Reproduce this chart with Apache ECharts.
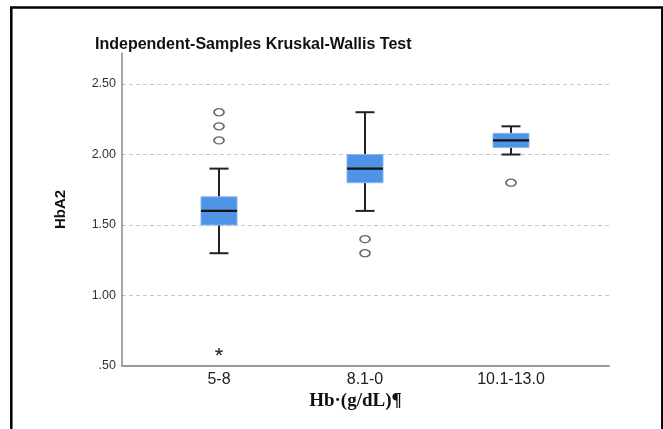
<!DOCTYPE html>
<html>
<head>
<meta charset="utf-8">
<script src="https://cdn.jsdelivr.net/npm/echarts@6/dist/echarts.min.js"></script>
<style>
html,body{margin:0;padding:0;background:#fff;}
#chart{width:663px;height:429px;}
</style>
</head>
<body>
<div id="chart"></div>
<script>
// ---- data ----
const categories = ['5-8', '8.1-0', '10.1-13.0'];
// [low whisker, Q1, median, Q3, high whisker]
const boxStats = [
  [1.3, 1.5, 1.6, 1.7, 1.9],
  [1.6, 1.8, 1.9, 2.0, 2.3],
  [2.0, 2.05, 2.1, 2.15, 2.2]
];
// outliers (circles): [category index, value]
const outliers = [[0, 2.1], [0, 2.2], [0, 2.3], [1, 1.4], [1, 1.3], [2, 1.8]];
// extreme values (asterisk)
const extremes = [[0, 0.6]];
const yTicks = [0.5, 1.0, 1.5, 2.0, 2.5];
const titleText = 'Independent-Samples Kruskal-Wallis Test';
const yName = 'HbA2';
const xName = 'Hb·(g/dL)¶';

const chart = echarts.init(document.getElementById('chart'));
const YMIN = 0.5, YMAX = 2.72;
const boxData = boxStats.map((s, i) => [i].concat(s));

function fmtY(v) {
  const ok = yTicks.some(t => Math.abs(t - v) < 1e-6);
  if (!ok) return '';
  return v.toFixed(2).replace(/^0/, '');
}

function renderBox(params, api) {
  const i = api.value(0);
  const pLow = api.coord([i, api.value(1)]);
  const pQ1 = api.coord([i, api.value(2)]);
  const pMed = api.coord([i, api.value(3)]);
  const pQ3 = api.coord([i, api.value(4)]);
  const pHigh = api.coord([i, api.value(5)]);
  const x = pMed[0];
  const bw = 36, cw = 19;
  const wStyle = {stroke: '#222', lineWidth: 2};
  return {
    type: 'group',
    children: [
      {type: 'line', shape: {x1: x, y1: pHigh[1], x2: x, y2: pQ3[1]}, style: wStyle},
      {type: 'line', shape: {x1: x, y1: pQ1[1], x2: x, y2: pLow[1]}, style: wStyle},
      {type: 'line', shape: {x1: x - cw / 2, y1: pHigh[1], x2: x + cw / 2, y2: pHigh[1]}, style: wStyle},
      {type: 'line', shape: {x1: x - cw / 2, y1: pLow[1], x2: x + cw / 2, y2: pLow[1]}, style: wStyle},
      {type: 'rect', shape: {x: x - bw / 2, y: pQ3[1], width: bw, height: pQ1[1] - pQ3[1]},
        style: {fill: '#4f93e6', stroke: '#86b6f0', lineWidth: 1}},
      {type: 'line', shape: {x1: x - bw / 2, y1: pMed[1], x2: x + bw / 2, y2: pMed[1]},
        style: {stroke: '#111', lineWidth: 2.2}}
    ]
  };
}

function renderStar(params, api) {
  const c = api.coord([api.value(0), api.value(1)]);
  const r = 4;
  const children = [];
  for (let k = 0; k < 5; k++) {
    const a = -Math.PI / 2 + k * 2 * Math.PI / 5;
    children.push({type: 'line', shape: {x1: c[0], y1: c[1], x2: c[0] + r * Math.cos(a), y2: c[1] + r * Math.sin(a)},
      style: {stroke: '#333', lineWidth: 1.6}});
  }
  return {type: 'group', children};
}

const option = {
  backgroundColor: '#fff',
  animation: false,
  title: {
    text: titleText,
    left: 90, top: 32,
    textStyle: {fontFamily: 'Liberation Sans, Arial, sans-serif', fontSize: 16, fontWeight: 'bold', color: '#111'}
  },
  graphic: [{
    type: 'rect', silent: true, z: 100,
    shape: {x: 11.3, y: 7.5, width: 651, height: 500},
    style: {fill: 'none', stroke: '#000', lineWidth: 2.5}
  }],
  grid: [
    {left: 122, right: 54, top: 53, bottom: 63},
    {left: 146, right: 79, top: 53, bottom: 63}
  ],
  xAxis: [
    {gridIndex: 0, type: 'value', min: 0, max: 1,
      axisLine: {show: true, lineStyle: {color: '#999', width: 2}},
      axisTick: {show: false}, axisLabel: {show: false}, splitLine: {show: false},
      name: xName, nameLocation: 'middle', nameGap: 26,
      nameTextStyle: {fontFamily: 'Liberation Serif, Times New Roman, serif', fontWeight: 'bold', fontSize: 19, color: '#111', padding: [0, 20, 0, 0]}
    },
    {gridIndex: 1, type: 'category', data: categories, boundaryGap: true,
      axisLine: {show: false}, axisTick: {show: false},
      axisLabel: {margin: 6, fontFamily: 'Liberation Sans, Arial, sans-serif', fontSize: 16, color: '#222'}
    }
  ],
  yAxis: [
    {gridIndex: 0, type: 'value', min: YMIN, max: YMAX, interval: 0.5,
      axisLine: {show: true, lineStyle: {color: '#888', width: 1.5}},
      axisTick: {show: false},
      axisLabel: {formatter: fmtY, margin: 6, fontFamily: 'Liberation Sans, Arial, sans-serif', fontSize: 12.5, color: '#333'},
      splitLine: {show: true, showMinLine: false, showMaxLine: false, lineStyle: {color: '#c8c8c8', type: [4, 3], width: 1}},
      name: yName, nameLocation: 'middle', nameGap: 54, nameRotate: 90,
      nameTextStyle: {fontFamily: 'Liberation Sans, Arial, sans-serif', fontWeight: 'bold', fontSize: 15, color: '#111'}
    },
    {gridIndex: 1, type: 'value', min: YMIN, max: YMAX, show: false, splitLine: {show: false}}
  ],
  series: [
    {type: 'custom', xAxisIndex: 1, yAxisIndex: 1, data: boxData, renderItem: renderBox,
      encode: {x: 0, y: [1, 2, 3, 4, 5]}},
    {type: 'scatter', xAxisIndex: 1, yAxisIndex: 1, data: outliers, symbol: 'circle', symbolSize: [10, 7],
      itemStyle: {color: '#fff', borderColor: '#444', borderWidth: 1.5}},
    {type: 'custom', xAxisIndex: 1, yAxisIndex: 1, data: extremes, renderItem: renderStar,
      encode: {x: 0, y: 1}}
  ]
};
chart.setOption(option);
</script>
</body>
</html>
